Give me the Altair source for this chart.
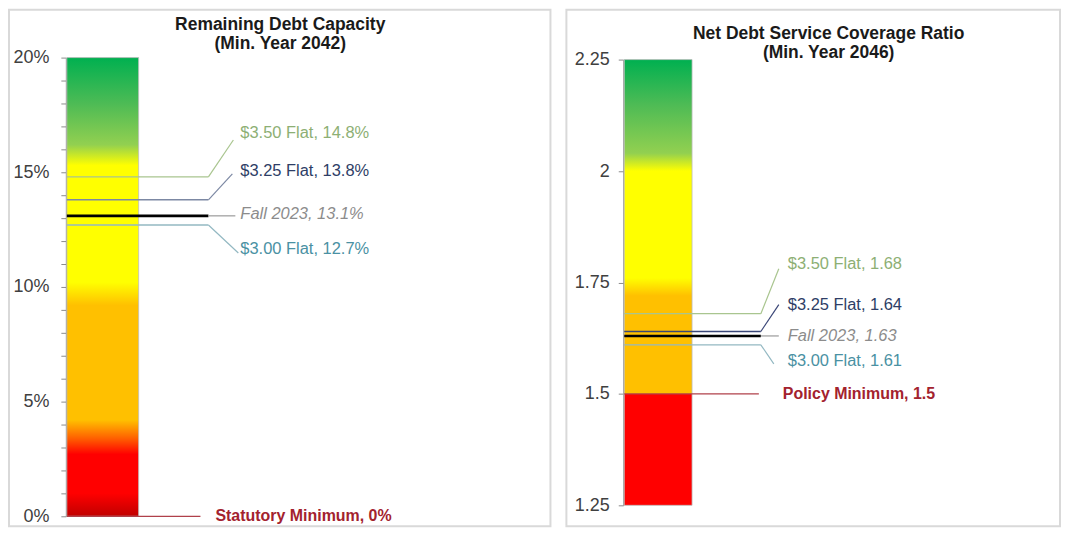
import altair as alt
import pandas as pd

# ---------------- data ----------------
scenario_names = ["$3.50 Flat", "$3.25 Flat", "Fall 2023", "$3.00 Flat"]
capacity_values = [14.8, 13.8, 13.1, 12.7]      # remaining debt capacity, %
coverage_values = [1.68, 1.64, 1.63, 1.61]      # net debt service coverage ratio
capacity_min_name = "Statutory Minimum"
capacity_minimum = 0
coverage_min_name = "Policy Minimum"
coverage_minimum = 1.5
capacity_domain = [0, 20]
coverage_domain = [1.25, 2.25]
capacity_ticks = list(range(0, 21))
coverage_ticks = [1.25, 1.5, 1.75, 2.0, 2.25]
capacity_title = ["Remaining Debt Capacity", "(Min. Year 2042)"]
coverage_title = ["Net Debt Service Coverage Ratio", "(Min. Year 2046)"]

# ---------------- styles ----------------
FONT = "Liberation Sans"
label_colors = ["#8DAF74", "#2E3E66", "#8C8C8C", "#4A91A3"]
min_color = "#A3222E"
min_line_color = "#B0404A"
fall_ext_color = "#9A9A9A"

left_geom = dict(
    W=543, H=518, y_top=48, y_bot=508, axis_x=57, bar_x0=58, bar_x1=130,
    elbow_x=200, end_x=[225, 224, 227, 230], end_dy=[-37, -26, 0, 28],
    label_x=232, label_dy=[-44, -29, -2, 24], min_x2=192, min_label_x=207,
    title_x=272, title_y=[20, 39], label_pad=12,
    line_colors=["#A9C58F", "#7C88A3", "#000000", "#93B8C2"],
    line_widths=[1.3, 1.6, 2.6, 1.3],
)
right_geom = dict(
    W=495, H=518, y_top=50, y_bot=497, axis_x=57, bar_x0=58, bar_x1=126,
    elbow_x=195, end_x=[213, 213, 213, 208], end_dy=[-45, -27, 0, 19],
    label_x=222, label_dy=[-50, -27, 0, 16], min_x2=193, min_label_x=217,
    title_x=263, title_y=[29, 48], label_pad=9,
    line_colors=["#A9C58F", "#3A4677", "#000000", "#93B8C2"],
    line_widths=[1.3, 1.6, 2.6, 1.3],
)

left_stops = [
    ("#00B050", 0.0), ("#4DBB55", 0.10), ("#92D050", 0.19), ("#FFFF00", 0.235),
    ("#FFFF00", 0.49), ("#FFC000", 0.54), ("#FFC000", 0.79), ("#FF6000", 0.83),
    ("#FF0000", 0.865), ("#FF0000", 0.95), ("#C00000", 1.0),
]
right_stops = [
    ("#00B050", 0.0), ("#4DBB55", 0.10), ("#92D050", 0.21), ("#FFFF00", 0.25),
    ("#FFFF00", 0.49), ("#FFC000", 0.53), ("#FFC000", 0.749), ("#FF0000", 0.751),
    ("#FF0000", 1.0),
]


def panel(values, domain, ticks, min_name, minimum, title_lines, suffix,
          g, stops, label_expr):
    W, H = g["W"], g["H"]
    ppu = (g["y_bot"] - g["y_top"]) / (domain[1] - domain[0])
    xs = alt.Scale(domain=[0, W], range=[0, W], nice=False, zero=False)
    ys = alt.Scale(domain=domain, range=[g["y_bot"], g["y_top"]], nice=False, zero=False)

    yaxis = alt.Axis(
        values=ticks, labelExpr=label_expr, offset=-g["axis_x"], title=None,
        grid=False, tickSize=5, labelPadding=g["label_pad"], domainColor="#8C8C8C",
        tickColor="#8C8C8C", labelColor="#404040", labelFont=FONT, labelFontSize=18,
        labelOverlap=False, labelFlush=False, domainWidth=1, tickWidth=1,
    )

    def Y(field):
        return alt.Y(field, scale=ys, axis=yaxis)

    def X(field):
        return alt.X(field, scale=xs, axis=None)

    bar_df = pd.DataFrame({"x": [g["bar_x0"]], "x2": [g["bar_x1"]],
                           "y": [domain[0]], "y2": [domain[1]]})
    grad = alt.LinearGradient(
        gradient="linear",
        stops=[alt.GradientStop(color=c, offset=o) for c, o in stops],
        x1=0, x2=0, y1=0, y2=1,
    )
    bar = alt.Chart(bar_df).mark_bar(color=grad, stroke="#BDBDBD", strokeWidth=0.8).encode(
        x=X("x:Q"), x2="x2:Q", y=Y("y:Q"), y2="y2:Q",
    )

    segs = []
    for i, (name, v) in enumerate(zip(scenario_names, values)):
        segs.append(dict(x=g["bar_x0"], x2=g["elbow_x"], y=v, y2=v,
                         c=g["line_colors"][i], w=g["line_widths"][i], o=i))
        end_v = v - g["end_dy"][i] / ppu
        col = fall_ext_color if name == "Fall 2023" else g["line_colors"][i]
        segs.append(dict(x=g["elbow_x"], x2=g["end_x"][i], y=v, y2=end_v,
                         c=col, w=1.2, o=i))
    segs.append(dict(x=g["bar_x0"], x2=g["min_x2"], y=minimum, y2=minimum,
                     c=min_line_color, w=1.2, o=9))
    seg_df = pd.DataFrame(segs)
    rules = alt.Chart(seg_df).mark_rule().encode(
        x=X("x:Q"), x2="x2:Q", y=Y("y:Q"), y2="y2:Q",
        color=alt.Color("c:N", scale=None),
        strokeWidth=alt.StrokeWidth("w:Q", scale=None),
        order="o:Q",
    )

    def fmt(v):
        return f"{v}{suffix}"

    lab_rows = []
    for i, (name, v) in enumerate(zip(scenario_names, values)):
        lab_rows.append(dict(x=g["label_x"], y=v - g["label_dy"][i] / ppu,
                             t=f"{name}, {fmt(v)}", c=label_colors[i],
                             italic=(name == "Fall 2023")))
    lab_df = pd.DataFrame(lab_rows)
    enc = dict(x=X("x:Q"), y=Y("y:Q"), text="t:N", color=alt.Color("c:N", scale=None))
    labels = alt.Chart(lab_df[~lab_df["italic"]]).mark_text(
        align="left", baseline="middle", font=FONT, fontSize=16.5).encode(**enc)
    labels_it = alt.Chart(lab_df[lab_df["italic"]]).mark_text(
        align="left", baseline="middle", font=FONT, fontSize=16.5, fontStyle="italic").encode(**enc)

    min_df = pd.DataFrame({"x": [g["min_label_x"]], "y": [minimum],
                           "t": [f"{min_name}, {fmt(minimum)}"], "c": [min_color]})
    min_lab = alt.Chart(min_df).mark_text(
        align="left", baseline="middle", font=FONT, fontSize=16, fontWeight="bold").encode(**enc)

    titles = []
    for line, ty in zip(title_lines, g["title_y"]):
        titles.append(
            alt.Chart(pd.DataFrame({"t": [line]})).mark_text(
                align="center", baseline="alphabetic", font=FONT, fontSize=17.5,
                fontWeight="bold", color="#1A1A1A").encode(
                x=alt.value(g["title_x"]), y=alt.value(ty), text="t:N")
        )

    return alt.layer(bar, rules, labels, labels_it, min_lab, *titles).properties(
        width=W, height=H)


left = panel(capacity_values, capacity_domain, capacity_ticks, capacity_min_name,
             capacity_minimum, capacity_title, "%", left_geom, left_stops,
             "datum.value % 5 === 0 ? datum.value + '%' : ''")
right = panel(coverage_values, coverage_domain, coverage_ticks, coverage_min_name,
              coverage_minimum, coverage_title, "", right_geom, right_stops,
              "'' + datum.value")

chart = alt.hconcat(left, right, spacing=14).properties(
    padding=0, background="white"
).configure_view(stroke="#D9D9D9", strokeWidth=2)

chart.save("out.html", embed_options={"renderer": "svg", "actions": False})
